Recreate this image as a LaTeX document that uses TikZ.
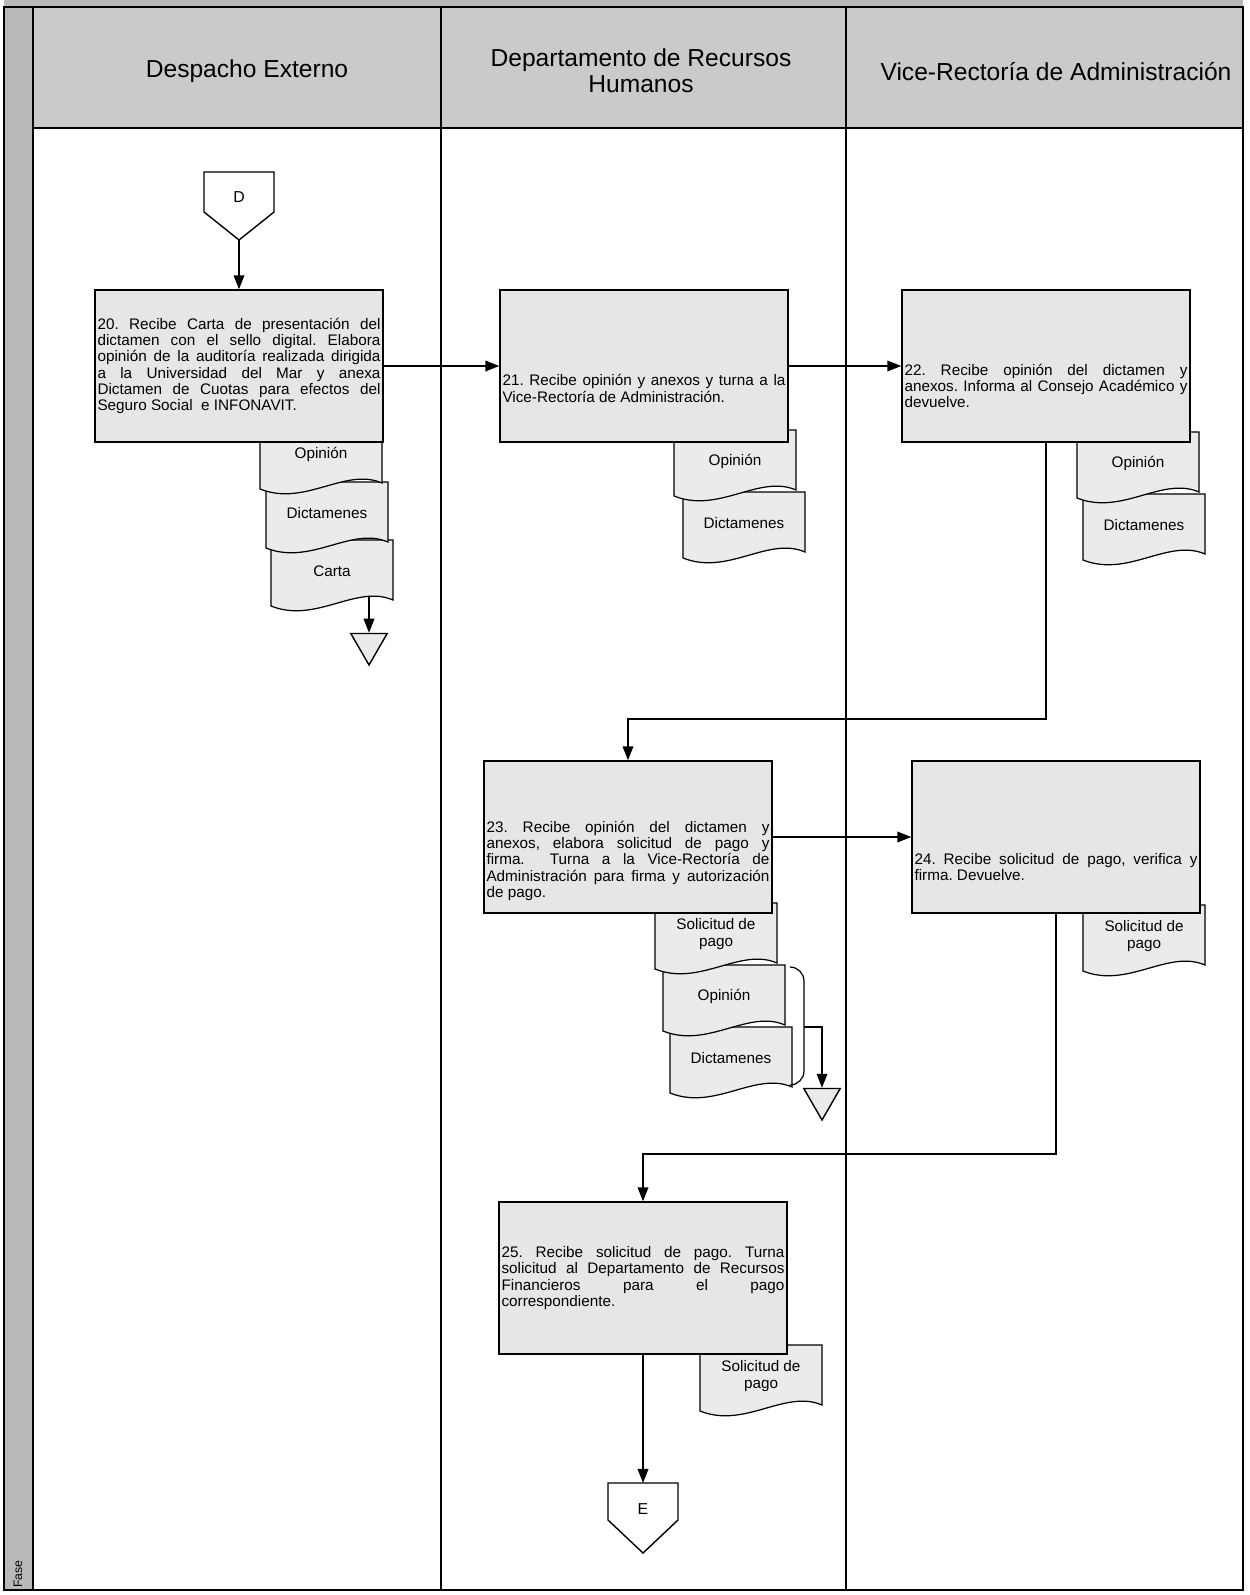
\documentclass[tikz,border=0pt]{standalone}
\usepackage{fontspec}
\setmainfont{Liberation Sans}
\usetikzlibrary{arrows.meta,shapes.geometric}
\definecolor{cajagris}{HTML}{E6E6E6}
\definecolor{hojagris}{HTML}{EBEBEB}
\definecolor{encgris}{HTML}{CACACA}
\definecolor{fajagris}{HTML}{B9B9B9}

\begin{document}
\frenchspacing
\begin{tikzpicture}[x=0.02cm,y=-0.02cm,>={Triangle[length=8pt,width=6pt]},
  caja/.style={draw,line width=0.8pt,fill=cajagris,minimum width=5.76cm,minimum height=3.04cm,
    text width=5.66cm,inner xsep=0.05cm,align=justify,font=\fontsize{8.7}{9.3}\selectfont},
  baja/.style={execute at begin node={\endgraf\vspace*{#1}}},
  hoja/.style={draw,line width=0.7pt,fill=hojagris},
  htexto/.style={align=center,font=\fontsize{8.7}{10}\selectfont},
  flujo/.style={->,line width=1.1pt},
  conector/.style={draw,line width=0.8pt,fill=white},
  archivo/.style={draw,line width=0.8pt,fill=hojagris,regular polygon,regular polygon sides=3,
    shape border rotate=180,minimum size=0.84cm,inner sep=0pt},
  encab/.style={align=center,font=\fontsize{14}{14.6}\selectfont}]
\useasboundingbox (0,0) rectangle (1249,1595);
\fill[fajagris] (4,0) rectangle (1243,7);
\fill[fajagris] (4,7) rectangle (33,1590);
\fill[encgris] (33,7) rectangle (1243,128);
\draw[line width=0.6pt] (4,7) rectangle (1243,1590);
\draw[line width=0.6pt] (33,7) -- (33,1590);
\draw[line width=1.2pt] (33,128) -- (1243,128);
\foreach \x in {441,846}
  \draw[line width=0.6pt] (\x,7) -- (\x,1590);
\node[encab] (despacho) at (247,71) {Despacho Externo};
\node[encab] (rrhh) at (641,71) {Departamento de Recursos\\Humanos};
\node[encab] (vicerr) at (1056,72) {Vice-Rectoría de Administración};
\node[rotate=90,font=\fontsize{7}{8}\selectfont] (fase) at (18,1574) {Fase};

\foreach \px/\py/\nom/\txt in {271/540/car20/Carta,266/482/dic20/Dictamenes,260/423/op20/Opinión,
    683/492/dic21/Dictamenes,674/430/op21/Opinión,1083/494/dic22/Dictamenes,1077/432/op22/Opinión,
    670/1027/dic23/Dictamenes,663/965/op23/Opinión,655/903/sol23/{Solicitud de\\pago},
    1083/905/sol24/{Solicitud de\\pago},700/1345/sol25/{Solicitud de\\pago}}{
  \filldraw[hoja] (\px,\py) -- (\px+122,\py) -- (\px+122,\py+60)
    .. controls (\px+85,\py+44) and (\px+45,\py+84) .. (\px,\py+66) -- cycle;
  \node[htexto] (\nom) at (\px+61,\py+31) {\txt};
}

\filldraw[conector] (204,172) -- (274,172) -- (274,212) -- (239,240) coordinate (puntaD) -- (204,212) -- cycle;
\node[font=\fontsize{9}{10}\selectfont] (conD) at (239,197) {D};
\filldraw[conector] (608,1483) -- (678,1483) -- (678,1520) -- (643,1553) -- (608,1520) -- cycle;
\coordinate (topeE) at (643,1483);
\node[font=\fontsize{9}{10}\selectfont] (conE) at (643,1509) {E};

\node[caja] (b20) at (239,366) {20. Recibe Carta de presentación del\linebreak
  dictamen con el sello digital. Elabora\linebreak opinión de la auditoría realizada dirigida\linebreak
  a la Universidad del Mar y anexa\linebreak Dictamen de Cuotas para efectos del\linebreak
  Seguro Social\ \ e INFONAVIT.};
\node[caja,baja=0.8cm] (b21) at (644,366) {21. Recibe opinión y anexos y turna a la\linebreak
  Vice-Rectoría de Administración.};
\node[caja,baja=0.7cm] (b22) at (1046,366) {22. Recibe opinión del dictamen y\linebreak
  anexos. Informa al Consejo Académico y\linebreak devuelve.};
\node[caja,baja=0.85cm] (b23) at (628,837) {23. Recibe opinión del dictamen y\linebreak
  anexos, elabora solicitud de pago y\linebreak firma.\ \ Turna a la Vice-Rectoría de\linebreak
  Administración para firma y autorización\linebreak de pago.};
\node[caja,baja=1.1cm] (b24) at (1056,837) {24. Recibe solicitud de pago, verifica y\linebreak
  firma. Devuelve.};
\node[caja] (b25) at (643,1278) {25. Recibe solicitud de pago. Turna\linebreak
  solicitud al Departamento de Recursos\linebreak Financieros para el pago\linebreak correspondiente.};

\node[archivo] (arch20) at (369,644) {};
\node[archivo] (arch23) at (822,1099) {};
\coordinate (baseCarta) at (369,596);
\draw[line width=0.7pt,rounded corners=8] (790,967) -- (804,967) -- (804,1085) -- (792,1085);
\coordinate (llave) at (804,1027);

\draw[flujo] (puntaD) -- (b20);
\draw[flujo] (b20) -- (b21);
\draw[flujo] (b21) -- (b22);
\draw[flujo] (b22.south) -- ++(0,276) -| (b23.north);
\draw[flujo] (b23) -- (b24);
\draw[flujo] (b24.south) -- ++(0,240) -| (b25.north);
\draw[flujo] (b25) -- (topeE);
\draw[flujo] (baseCarta) -- (arch20);
\draw[flujo] (llave) -| (arch23);
\end{tikzpicture}
\end{document}
